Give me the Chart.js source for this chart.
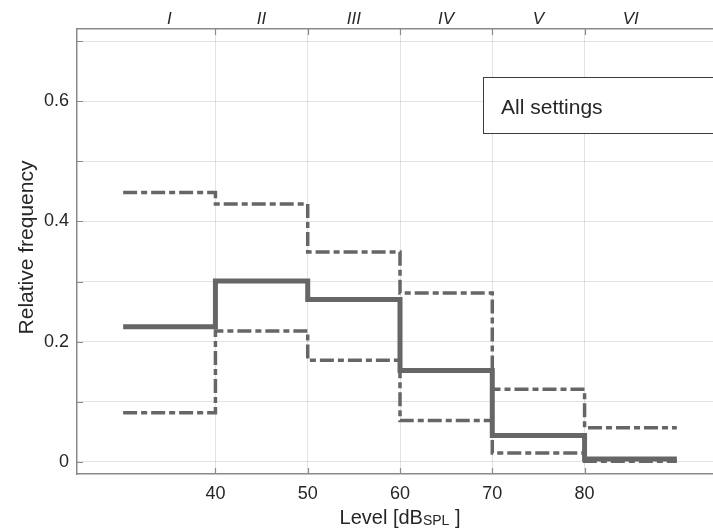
<!DOCTYPE html>
<html>
<head>
<meta charset="utf-8">
<script src="https://cdn.jsdelivr.net/npm/chart.js@4"></script>
<style>
  html, body { margin: 0; padding: 0; background: #fff; overflow: hidden; }
  #wrap { width: 713px; height: 531px; overflow: hidden; }
</style>
</head>
<body>
<div id="wrap"><canvas id="levelChart" width="723" height="531"></canvas></div>
<script>
// bin edges (dB SPL) and relative frequency per bin
const binEdges = [30, 40, 50, 60, 70, 80, 90];
const medianFreq = [0.225, 0.301, 0.270, 0.152, 0.044, 0.005];
const upperFreq = [0.448, 0.429, 0.349, 0.281, 0.121, 0.057];
const lowerFreq = [0.082, 0.218, 0.169, 0.069, 0.015, 0.001];

const xTicks = [40, 50, 60, 70, 80];
const yTicks = [0, 0.1, 0.2, 0.3, 0.4, 0.5, 0.6, 0.7];
const yLabelled = [0, 0.2, 0.4, 0.6];
const classCenters = [35, 45, 55, 65, 75, 85];
const classNames = ['I', 'II', 'III', 'IV', 'V', 'VI'];

const AXIS = '#8a8a8a';
const TEXT = '#262626';
const LINE = '#666666';
const FONT = '"Liberation Sans", Arial, Helvetica, sans-serif';
const DASHDOT = [14, 4, 6, 4];

// stepped line needs a closing point at the last edge
function stepPoints(vals) {
  return binEdges.map((x, i) => ({ x: x, y: vals[Math.min(i, vals.length - 1)] }));
}

// inward tick marks, class labels, axis titles and text box
const extras = {
  id: 'extras',
  afterDraw(chart) {
    const ctx = chart.ctx;
    const a = chart.chartArea;
    const xs = chart.scales.x;
    const ys = chart.scales.y;

    ctx.save();
    ctx.strokeStyle = AXIS;
    ctx.lineWidth = 1.2;
    ctx.beginPath();
    xTicks.forEach(v => {
      const px = Math.round(xs.getPixelForValue(v)) + 0.5;
      ctx.moveTo(px, a.bottom); ctx.lineTo(px, a.bottom - 6);
      ctx.moveTo(px, a.top); ctx.lineTo(px, a.top + 6);
    });
    yTicks.forEach(v => {
      const py = Math.round(ys.getPixelForValue(v)) + 0.5;
      ctx.moveTo(a.left, py); ctx.lineTo(a.left + 6, py);
    });
    ctx.stroke();

    // class labels above the plot
    ctx.fillStyle = TEXT;
    ctx.font = 'italic 17px ' + FONT;
    ctx.textAlign = 'center';
    ctx.textBaseline = 'alphabetic';
    classCenters.forEach((v, i) => {
      ctx.fillText(classNames[i], xs.getPixelForValue(v), a.top - 5);
    });

    // text box
    const bx = xs.getPixelForValue(69);
    const by = ys.getPixelForValue(0.64);
    const bh = ys.getPixelForValue(0.547) - by;
    ctx.fillStyle = '#fff';
    ctx.fillRect(bx, by, chart.width - bx + 5, bh);
    ctx.strokeStyle = '#3c3c3c';
    ctx.lineWidth = 1;
    ctx.strokeRect(Math.round(bx) + 0.5, Math.round(by) + 0.5, chart.width, Math.round(bh));
    ctx.fillStyle = TEXT;
    ctx.font = '21px ' + FONT;
    ctx.textAlign = 'left';
    ctx.fillText('All settings', bx + 18, by + 37);

    // y title
    ctx.save();
    ctx.translate(33, (a.top + a.bottom) / 2 - 4);
    ctx.rotate(-Math.PI / 2);
    ctx.textAlign = 'center';
    ctx.font = '21px ' + FONT;
    ctx.fillText('Relative frequency', 0, 0);
    ctx.restore();

    // x title with subscript
    const p1 = 'Level [dB', sub = 'SPL', p2 = ' ]';
    ctx.textAlign = 'left';
    ctx.font = '20px ' + FONT;
    const w1 = ctx.measureText(p1).width;
    const w3 = ctx.measureText(p2).width;
    ctx.font = '14px ' + FONT;
    const w2 = ctx.measureText(sub).width;
    const cx = (a.left + a.right) / 2;
    const x0 = cx - (w1 + w2 + w3) / 2;
    const base = 524;
    ctx.font = '20px ' + FONT;
    ctx.fillText(p1, x0, base);
    ctx.font = '14px ' + FONT;
    ctx.fillText(sub, x0 + w1, base + 1);
    ctx.font = '20px ' + FONT;
    ctx.fillText(p2, x0 + w1 + w2, base);
    ctx.restore();
  }
};

const ctx = document.getElementById('levelChart').getContext('2d');
new Chart(ctx, {
  type: 'line',
  data: {
    datasets: [
      {
        label: 'upper',
        data: stepPoints(upperFreq),
        borderColor: LINE,
        borderWidth: 3.5,
        borderDash: DASHDOT,
        stepped: true,
        pointRadius: 0,
        fill: false
      },
      {
        label: 'lower',
        data: stepPoints(lowerFreq),
        borderColor: LINE,
        borderWidth: 3.5,
        borderDash: DASHDOT,
        stepped: true,
        pointRadius: 0,
        fill: false
      },
      {
        label: 'median',
        data: stepPoints(medianFreq),
        borderColor: LINE,
        borderWidth: 5,
        stepped: true,
        pointRadius: 0,
        fill: false
      }
    ]
  },
  plugins: [extras],
  options: {
    responsive: false,
    animation: false,
    layout: { padding: 0 },
    plugins: {
      legend: { display: false },
      tooltip: { enabled: false }
    },
    elements: { line: { borderJoinStyle: 'miter', borderCapStyle: 'butt', tension: 0 } },
    scales: {
      x: {
        type: 'linear',
        position: 'bottom',
        min: 25,
        max: 95,
        afterBuildTicks: s => { s.ticks = xTicks.map(v => ({ value: v })); },
        afterFit: s => { s.height = 57; },
        grid: { color: 'rgba(0,0,0,0.11)', drawTicks: false },
        border: { color: AXIS, width: 1.5 },
        ticks: { color: TEXT, font: { size: 18, family: FONT }, padding: 9 }
      },
      x2: {
        type: 'linear',
        position: 'top',
        min: 25,
        max: 95,
        afterFit: s => { s.height = 29; },
        grid: { display: false },
        border: { color: AXIS, width: 1.5 },
        ticks: { display: false }
      },
      y: {
        min: -0.02,
        max: 0.72,
        afterBuildTicks: s => { s.ticks = yTicks.map(v => ({ value: v })); },
        afterFit: s => { s.width = 77; },
        grid: { color: 'rgba(0,0,0,0.11)', drawTicks: false },
        border: { color: AXIS, width: 1.5 },
        ticks: {
          color: TEXT,
          font: { size: 18, family: FONT },
          padding: 8,
          callback: (v) => yLabelled.some(t => Math.abs(t - v) < 1e-9) ? String(+v.toFixed(1)) : ''
        }
      }
    }
  }
});
</script>
</body>
</html>
